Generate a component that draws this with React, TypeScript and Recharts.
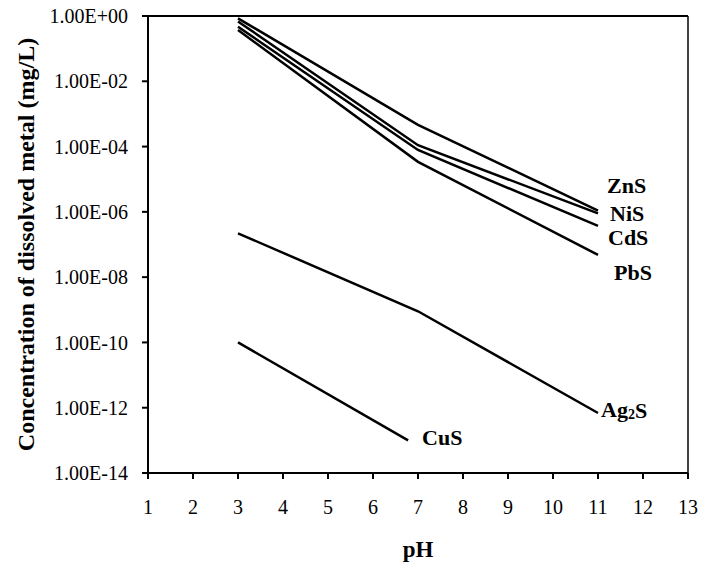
import React from "react";
import {
  LineChart,
  Line,
  XAxis,
  YAxis,
  ReferenceLine,
} from "recharts";

// pH values where each curve was evaluated
const PH = [3, 7, 11];
const PH_CUS = [3, 6.78];

// dissolved metal, mg/L
const ZNS = [0.85, 4.6e-4, 1.1e-6];
const NIS = [0.68, 1.1e-4, 9e-7];
const CDS = [0.47, 7.9e-5, 3.7e-7];
const PBS = [0.37, 3.4e-5, 4.8e-8];
const AG2S = [2.2e-7, 9e-10, 6.9e-13];
const CUS = [1e-10, 1e-13];

const X_TICKS = [1, 2, 3, 4, 5, 6, 7, 8, 9, 10, 11, 12, 13];
const Y_TICKS = [1, 1e-2, 1e-4, 1e-6, 1e-8, 1e-10, 1e-12, 1e-14];

const FONT = "'Liberation Serif', 'DejaVu Serif', serif";

const toRows = (xs: number[], ys: number[]) =>
  xs.map((ph, i) => ({ ph, c: ys[i] }));

const SERIES = [
  { name: "ZnS", data: toRows(PH, ZNS), dx: 9, dy: -25 },
  { name: "NiS", data: toRows(PH, NIS), dx: 12, dy: 0 },
  { name: "CdS", data: toRows(PH, CDS), dx: 10, dy: 12 },
  { name: "PbS", data: toRows(PH, PBS), dx: 16, dy: 18 },
  { name: "Ag2S", data: toRows(PH, AG2S), dx: 3, dy: -3 },
  { name: "CuS", data: toRows(PH_CUS, CUS), dx: 14, dy: -3 },
];

const fmtExp = (v: number) => {
  const e = Math.round(Math.log10(v));
  const sign = e < 0 ? "-" : "+";
  return `1.00E${sign}${String(Math.abs(e)).padStart(2, "0")}`;
};

function EndLabel(props: any) {
  const { x, y, index, name, last, dx, dy } = props;
  if (index !== last) return null;
  const common = {
    x: x + dx,
    y: y + dy,
    dominantBaseline: "central" as const,
    fontFamily: FONT,
    fontWeight: 700,
    fontSize: 22,
    fill: "#000",
  };
  if (name === "Ag2S") {
    return (
      <text {...common}>
        Ag
        <tspan fontSize={14} dy={4}>2</tspan>
        <tspan dy={-4}>S</tspan>
      </text>
    );
  }
  return <text {...common}>{name}</text>;
}

export default function App() {
  return (
    <div style={{ position: "absolute", left: 0, top: 0, background: "#fff" }}>
      <LineChart
        width={701}
        height={564}
        margin={{ top: 16, right: 13, bottom: 0, left: 0 }}
      >
        <XAxis
          dataKey="ph"
          type="number"
          domain={[1, 13]}
          ticks={X_TICKS}
          allowDuplicatedCategory={false}
          height={91}
          stroke="#000"
          strokeWidth={2}
          tickSize={6}
          tickMargin={21}
          tick={{ fontSize: 20, fontFamily: FONT, fill: "#000" }}
          label={{
            value: "pH",
            position: "insideBottom",
            offset: 7,
            style: { fontSize: 23, fontWeight: 700, fontFamily: FONT, fill: "#000" },
          }}
        />
        <YAxis
          dataKey="c"
          type="number"
          scale="log"
          domain={[1e-14, 1]}
          ticks={Y_TICKS}
          allowDataOverflow
          width={148}
          stroke="#000"
          strokeWidth={2}
          tickSize={6}
          tickMargin={14}
          tickFormatter={fmtExp}
          tick={{ fontSize: 20, fontFamily: FONT, fill: "#000" }}
          label={{
            value: "Concentration of dissolved metal (mg/L)",
            angle: -90,
            position: "insideLeft",
            offset: 25,
            style: {
              textAnchor: "middle",
              fontSize: 24,
              fontWeight: 700,
              fontFamily: FONT,
              fill: "#000",
            },
          }}
        />
        <ReferenceLine y={1} stroke="#000" strokeWidth={2} />
        <ReferenceLine x={13} stroke="#000" strokeWidth={1.5} />
        {SERIES.map((s) => (
          <Line
            key={s.name}
            data={s.data}
            dataKey="c"
            type="linear"
            stroke="#000"
            strokeWidth={2.5}
            dot={false}
            isAnimationActive={false}
            label={(p: any) => (
              <EndLabel
                {...p}
                key={`${s.name}-${p.index}`}
                name={s.name}
                last={s.data.length - 1}
                dx={s.dx}
                dy={s.dy}
              />
            )}
          />
        ))}
      </LineChart>
    </div>
  );
}
